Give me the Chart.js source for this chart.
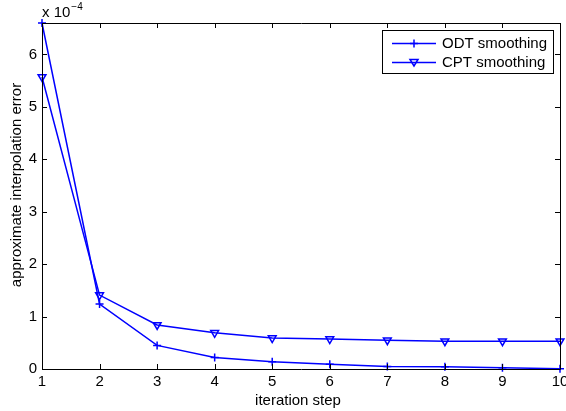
<!DOCTYPE html>
<html>
<head>
<meta charset="utf-8">
<script src="https://cdn.jsdelivr.net/npm/chart.js@4/dist/chart.umd.min.js"></script>
<style>
html,body{margin:0;padding:0;background:#fff;}
#wrap{width:566px;height:411px;position:relative;}
</style>
</head>
<body>
<div id="wrap"><canvas id="c" width="566" height="411"></canvas></div>
<script>
const steps = [1,2,3,4,5,6,7,8,9,10];
const odtValues = [6.6,1.24,0.45,0.22,0.14,0.09,0.05,0.045,0.025,0.005];
const cptValues = [5.57,1.41,0.84,0.69,0.59,0.57,0.55,0.53,0.53,0.53];
const yTickValues = [0,1,2,3,4,5,6];
const xTickValues = [1,2,3,4,5,6,7,8,9,10];
const seriesNames = ['ODT smoothing','CPT smoothing'];
const xTitle = 'iteration step';
const yTitle = 'approximate interpolation error';

const FONT = '"Liberation Sans", Arial, Helvetica, sans-serif';

const boxPlugin = {
  id: 'matlabBox',
  afterDraw(chart) {
    const ctx = chart.ctx;
    const a = chart.chartArea;
    const xs = chart.scales.x, ys = chart.scales.y;
    ctx.save();
    ctx.strokeStyle = '#000';
    ctx.lineWidth = 1;
    ctx.beginPath();
    ctx.rect(Math.round(a.left)+0.5, Math.round(a.top)+0.5, Math.round(a.right-a.left), Math.round(a.bottom-a.top));
    ctx.stroke();
    const tl = 5;
    ctx.beginPath();
    xTickValues.forEach(v => {
      const px = Math.round(xs.getPixelForValue(v))+0.5;
      ctx.moveTo(px, a.bottom); ctx.lineTo(px, a.bottom - tl);
      ctx.moveTo(px, a.top); ctx.lineTo(px, a.top + tl);
    });
    yTickValues.forEach(v => {
      const py = Math.round(ys.getPixelForValue(v))+0.5;
      ctx.moveTo(a.left, py); ctx.lineTo(a.left + tl, py);
      ctx.moveTo(a.right, py); ctx.lineTo(a.right - tl, py);
    });
    ctx.stroke();

    ctx.fillStyle = '#000';
    ctx.textBaseline = 'alphabetic';
    ctx.textAlign = 'left';
    ctx.font = '15px ' + FONT;
    ctx.fillText('x 10', a.left, 17);
    const w = ctx.measureText('x 10').width;
    ctx.font = '10px ' + FONT;
    ctx.fillText('\u22124', a.left + w + 1, 10);

    ctx.font = '15px ' + FONT;
    ctx.textAlign = 'center';
    ctx.textBaseline = 'alphabetic';
    ctx.fillText(xTitle, (a.left + a.right)/2 - 3, 405);
    ctx.save();
    ctx.translate(21, 185);
    ctx.rotate(-Math.PI/2);
    ctx.fillText(yTitle, 0, 0);
    ctx.restore();

    const lx = 382.5, ly = 30.5, lw = 171, lh = 43;
    ctx.fillStyle = '#fff';
    ctx.fillRect(lx, ly, lw, lh);
    ctx.strokeStyle = '#000';
    ctx.lineWidth = 1;
    ctx.strokeRect(lx, ly, lw, lh);
    const rows = [43.5, 62.5];
    chart.data.datasets.forEach((ds, i) => {
      const y = rows[i];
      ctx.strokeStyle = ds.borderColor;
      ctx.lineWidth = 1.5;
      ctx.beginPath();
      ctx.moveTo(392, y); ctx.lineTo(436, y);
      ctx.stroke();
      const mx = 414;
      if (i === 0) {
        ctx.beginPath();
        ctx.moveTo(mx-4, y); ctx.lineTo(mx+4, y);
        ctx.moveTo(mx, y-4); ctx.lineTo(mx, y+4);
        ctx.stroke();
      } else {
        ctx.beginPath();
        ctx.moveTo(mx-4, y-3); ctx.lineTo(mx+4, y-3); ctx.lineTo(mx, y+3.5); ctx.closePath();
        ctx.stroke();
      }
      ctx.fillStyle = '#000';
      ctx.font = '15px ' + FONT;
      ctx.textAlign = 'left';
      ctx.textBaseline = 'middle';
      ctx.fillText(ds.label, 442, y + 0.5);
    });
    ctx.restore();
  }
};

new Chart(document.getElementById('c'), {
  type: 'line',
  data: {
    datasets: [
      {
        label: seriesNames[0],
        data: steps.map((s,i) => ({x: s, y: odtValues[i]})),
        borderColor: '#0000ff',
        backgroundColor: '#0000ff',
        borderWidth: 1.5,
        pointStyle: 'cross',
        pointRadius: 4,
        pointBorderWidth: 1.5,
        pointHoverRadius: 4,
        tension: 0,
        clip: false
      },
      {
        label: seriesNames[1],
        data: steps.map((s,i) => ({x: s, y: cptValues[i]})),
        borderColor: '#0000ff',
        backgroundColor: 'rgba(0,0,0,0)',
        borderWidth: 1.5,
        pointStyle: 'triangle',
        pointRotation: 180,
        pointRadius: 4.5,
        pointBorderWidth: 1.5,
        pointHoverRadius: 4.5,
        tension: 0,
        clip: false
      }
    ]
  },
  plugins: [boxPlugin],
  options: {
    responsive: false,
    animation: false,
    events: [],
    layout: { padding: { left: 0, right: 6, top: 23, bottom: 0 } },
    plugins: { legend: { display: false }, tooltip: { enabled: false }, title: { display: false } },
    scales: {
      x: {
        type: 'linear',
        min: 1, max: 10,
        afterBuildTicks: s => { s.ticks = xTickValues.map(v => ({value: v})); },
        afterFit: s => { s.height = 42; s.paddingLeft = 0; s.paddingRight = 0; },
        grid: { display: false, drawTicks: false },
        border: { display: false },
        ticks: { color: '#000', font: { family: FONT, size: 15 }, padding: 4, maxRotation: 0, autoSkip: false }
      },
      y: {
        type: 'linear',
        min: 0, max: 6.6,
        afterBuildTicks: s => { s.ticks = yTickValues.map(v => ({value: v})); },
        afterFit: s => { s.width = 42; s.paddingTop = 0; s.paddingBottom = 0; },
        grid: { display: false, drawTicks: false },
        border: { display: false },
        ticks: { color: '#000', font: { family: FONT, size: 15 }, padding: 5 }
      }
    }
  }
});
</script>
</body>
</html>
